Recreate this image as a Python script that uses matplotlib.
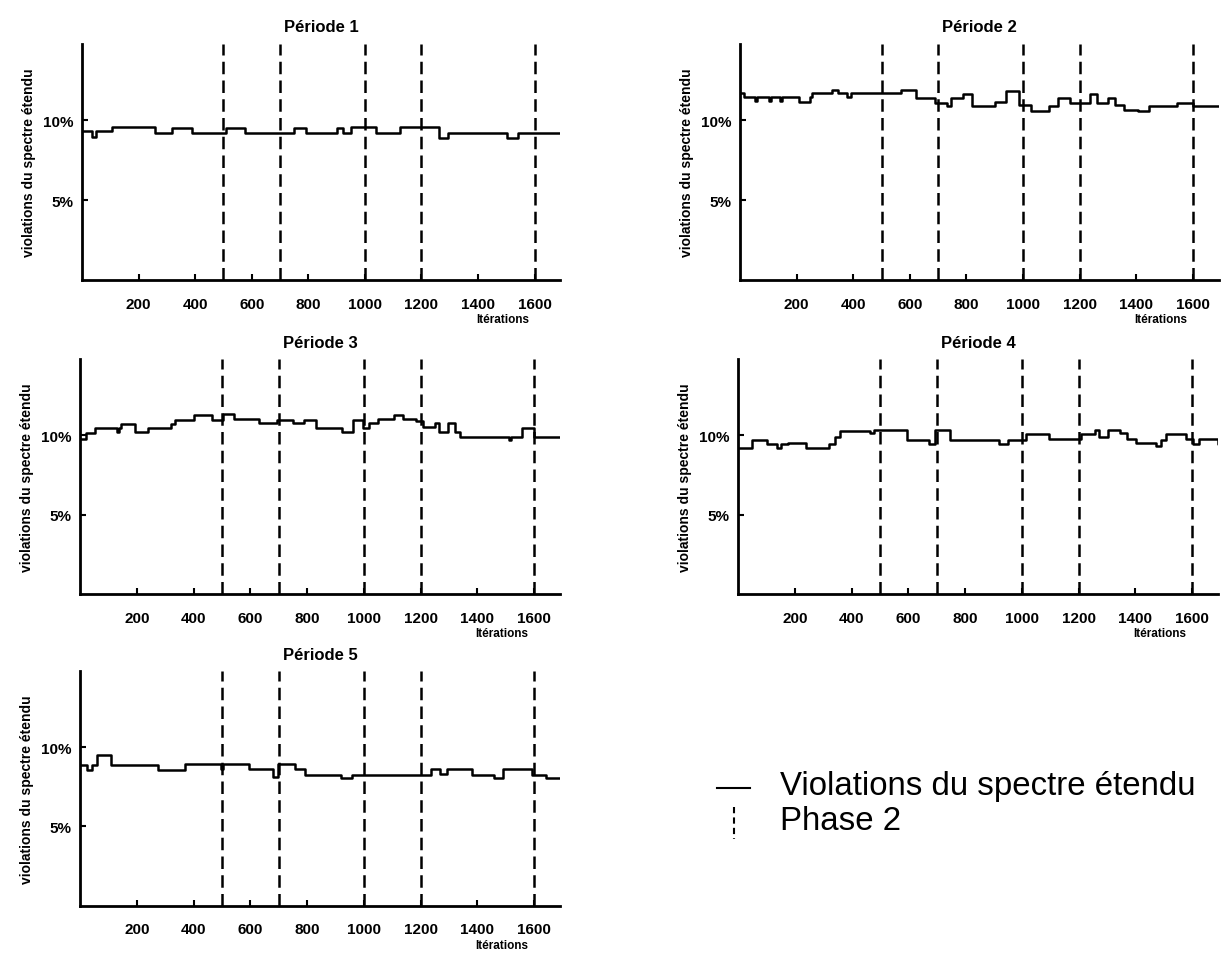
import matplotlib.pyplot as plt
from matplotlib.lines import Line2D

# step data: iteration where each level starts, level in %
p1_x = [0, 36, 51, 106, 257, 317, 390, 510, 577, 750, 792, 900, 921, 950, 1038, 1123, 1262, 1294, 1503, 1541, 1700]
p1_y = [9.31, 8.99, 9.31, 9.56, 9.20, 9.52, 9.22, 9.52, 9.22, 9.52, 9.22, 9.52, 9.22, 9.56, 9.22, 9.62, 8.93, 9.24, 8.89, 9.24, 9.24]

p2_x = [0, 14, 54, 62, 102, 110, 140, 148, 209, 247, 253, 326, 348, 379, 392, 568, 621, 688, 732, 744,
        788, 820, 902, 940, 984, 1028, 1091, 1122, 1166, 1236, 1261, 1298, 1324, 1355, 1406, 1443, 1544, 1600, 1700]
p2_y = [11.72, 11.45, 11.20, 11.45, 11.25, 11.45, 11.20, 11.45, 11.16, 11.45, 11.72, 11.93, 11.72, 11.50, 11.72, 11.93, 11.41, 11.09, 10.88, 11.41,
        11.68, 10.88, 11.16, 11.87, 10.95, 10.57, 10.88, 11.41, 11.09, 11.68, 11.09, 11.41, 10.95, 10.67, 10.57, 10.88, 11.09, 10.88, 10.88]

p3_x = [0, 22, 54, 130, 136, 143, 193, 238, 320, 333, 402, 466, 504, 542, 631, 694, 751, 789, 833, 922, 960, 998,
        1017, 1049, 1106, 1137, 1182, 1207, 1252, 1264, 1296, 1321, 1340, 1511, 1518, 1556, 1600, 1700]
p3_y = [9.78, 10.11, 10.44, 10.18, 10.44, 10.70, 10.22, 10.44, 10.70, 10.99, 11.27, 10.99, 11.32, 11.05, 10.77, 10.99, 10.77, 10.99, 10.44, 10.18, 10.99, 10.44,
        10.77, 11.05, 11.27, 11.05, 10.88, 10.55, 10.77, 10.22, 10.77, 10.22, 9.89, 9.67, 9.89, 10.44, 9.89, 9.89]

p4_x = [0, 48, 75, 101, 138, 151, 176, 239, 321, 340, 358, 465, 478, 597, 673, 694, 748, 918, 950, 1013, 1094,
        1208, 1258, 1270, 1302, 1346, 1371, 1403, 1472, 1491, 1509, 1579, 1604, 1623, 1692, 1700]
p4_y = [9.21, 9.68, 9.72, 9.47, 9.21, 9.47, 9.51, 9.21, 9.47, 9.89, 10.26, 10.11, 10.32, 9.72, 9.47, 10.32, 9.72, 9.47, 9.72, 10.06, 9.79,
        10.06, 10.32, 9.89, 10.32, 10.11, 9.79, 9.51, 9.30, 9.72, 10.06, 9.79, 9.47, 9.79, 9.47, 9.47]

p5_x = [0, 25, 41, 59, 110, 275, 370, 496, 503, 597, 680, 699, 756, 794, 920, 958, 1237, 1268, 1294, 1382, 1458, 1490, 1592, 1642, 1700]
p5_y = [8.85, 8.54, 8.85, 9.48, 8.85, 8.54, 8.96, 8.65, 8.96, 8.60, 8.13, 8.96, 8.60, 8.27, 8.08, 8.27, 8.65, 8.33, 8.60, 8.27, 8.06, 8.60, 8.27, 8.08, 8.08]

periods = ['Période 1', 'Période 2', 'Période 3', 'Période 4', 'Période 5']
series = [(p1_x, p1_y), (p2_x, p2_y), (p3_x, p3_y), (p4_x, p4_y), (p5_x, p5_y)]
phase2 = [500, 700, 1000, 1200, 1600]
xticks = [200, 400, 600, 800, 1000, 1200, 1400, 1600]
yticks = [5, 10]
ytick_labels = ['5%', '10%']

plt.rcParams['font.family'] = ['Liberation Sans', 'DejaVu Sans']

fig = plt.figure(figsize=(12.21, 9.54), dpi=100)

# [left, bottom, width, height] in figure fractions
boxes = [
    [0.0672, 0.7055, 0.3915, 0.2474],
    [0.6060, 0.7055, 0.3920, 0.2474],
    [0.0655, 0.3763, 0.3930, 0.2463],
    [0.6044, 0.3763, 0.3930, 0.2463],
    [0.0655, 0.0495, 0.3930, 0.2460],
]

dash = (0, (5, 2.5))

for box, title, (xs, ys) in zip(boxes, periods, series):
    ax = fig.add_axes(box)
    ax.step(xs, ys, where='post', color='black', lw=1.8)
    for xv in phase2:
        ax.axvline(xv, color='black', lw=1.8, linestyle=dash)
    ax.set_xlim(0, 1690)
    ax.set_ylim(0, 14.8)
    ax.set_xticks(xticks)
    ax.set_xticklabels([str(t) for t in xticks], fontsize=11, fontweight='bold')
    ax.set_yticks(yticks)
    ax.set_yticklabels(ytick_labels, fontsize=11, fontweight='bold')
    ax.tick_params(direction='in', length=4, width=1.5, pad=6)
    ax.tick_params(axis='x', pad=12)
    for side in ['top', 'right']:
        ax.spines[side].set_visible(False)
    for side in ['left', 'bottom']:
        ax.spines[side].set_linewidth(2)
    ax.set_title(title, fontsize=12, fontweight='bold', pad=9)
    ax.set_ylabel('violations du spectre étendu', fontsize=10, fontweight='bold', labelpad=5)
    ax.set_xlabel('Itérations', fontsize=8.5, fontweight='bold')
    ax.xaxis.set_label_coords(0.88, -0.14)

# legend drawn by hand in the empty sixth slot
fig.add_artist(Line2D([0.587, 0.614], [0.173, 0.173], color='black', lw=1.5))
fig.add_artist(Line2D([0.601, 0.601], [0.153, 0.119], color='black', lw=1.5, linestyle=(0, (3, 2))))
fig.text(0.639, 0.176, 'Violations du spectre étendu', fontsize=23.8, va='center', ha='left')
fig.text(0.639, 0.139, 'Phase 2', fontsize=23.8, va='center', ha='left')

fig.savefig('out.png', dpi=100)
